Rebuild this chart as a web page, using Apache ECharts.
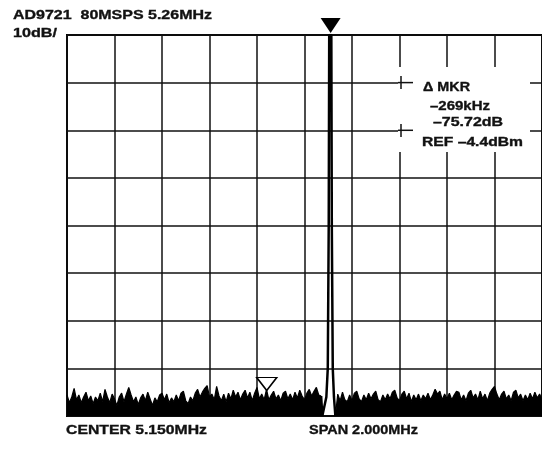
<!DOCTYPE html>
<html>
<head>
<meta charset="utf-8">
<script src="https://cdn.jsdelivr.net/npm/echarts@6/dist/echarts.min.js"></script>
<style>
html,body{margin:0;padding:0;background:#fff;}
#chart{width:542px;height:451px;}
</style>
</head>
<body>
<div id="chart"></div>
<script>
// ---- texts ----
const titleText = 'AD9721  80MSPS 5.26MHz';
const scaleText = '10dB/';
const centerText = 'CENTER 5.150MHz';
const spanText = 'SPAN 2.000MHz';
const markerLines = ['\u0394 MKR', '\u2013269kHz', '\u201375.72dB', 'REF \u20134.4dBm'];

// ---- axes (offset from centre 5.150 MHz, level relative to REF -4.4 dBm) ----
const freqMin = -1.0, freqMax = 1.0, freqDiv = 0.2;
const levelMin = -80, levelMax = 0, levelDiv = 10;

// ---- noise trace samples (0.01 MHz spacing, from -1.00 MHz), dB rel. REF ----
const noiseStart = -1.0, noiseStep = 0.01;
const noiseLevels = [
 -75.6,-77.2,-76.0,-74.2,-76.6,-75.6,-77.2,-76.0,-75.0,-76.8,
 -75.8,-77.4,-76.0,-76.8,-75.2,-77.0,-74.4,-76.0,-77.2,-75.4,
 -76.4,-77.8,-76.0,-75.2,-77.0,-75.4,-74.0,-75.6,-77.0,-76.0,
 -77.6,-76.2,-75.4,-76.8,-75.0,-76.4,-77.8,-76.2,-77.0,-75.6,
 -75.2,-76.6,-75.4,-77.2,-76.2,-77.0,-75.6,-76.8,-75.2,-74.8,
 -76.8,-77.4,-76.0,-76.8,-75.2,-74.4,-76.0,-75.0,-74.2,-73.6,
 -76.0,-75.4,-76.6,-73.8,-75.8,-76.8,-75.4,-77.0,-75.2,-76.4,
 -74.6,-76.0,-75.0,-76.6,-75.4,-74.6,-76.2,-75.0,-76.8,-75.2,
 -74.0,-76.4,-75.4,-76.6,-74.4,-76.6,-75.6,-74.8,-76.4,-75.6,
 -76.8,-75.2,-74.8,-76.4,-75.4,-76.6,-75.0,-76.2,-74.6,-75.8,
 -76.6,-75.2,-74.4,-75.8,-74.8,-74.0,-75.6,-75.8,null,null,
 null,null,null,-80.0,-75.4,-76.8,-75.0,-76.6,-77.0,-75.6,
 -76.8,-75.2,-74.8,-76.4,-77.0,-75.6,-76.6,-75.2,-76.4,-75.4,
 -74.8,-76.6,-77.0,-75.6,-76.6,-75.4,-76.4,-75.0,-74.6,-76.2,
 -76.8,-75.4,-74.8,-76.4,-75.2,-77.0,-75.6,-76.6,-75.4,-76.8,
 -75.6,-76.4,-75.2,-76.6,-75.6,-74.4,-75.4,-74.8,-76.6,-75.4,
 -76.4,-75.2,-76.6,-75.6,-74.8,-75.0,-76.6,-75.6,-76.8,-75.2,
 -74.6,-76.2,-75.4,-76.6,-74.8,-76.4,-75.4,-76.8,-75.2,-74.4,
 -73.8,-75.4,-76.6,-75.4,-74.8,-76.4,-75.6,-76.8,-75.0,-74.6,
 -76.2,-75.4,-76.8,-75.6,-76.6,-75.2,-76.4,-75.0,-76.2,-75.4,
 -76.6
];

// ---- carrier (5.26 MHz) trace ----
const peakFreqs  = [0.07, 0.075, 0.092, 0.098, 0.102, 0.104, 0.113, 0.115, 0.119, 0.124, 0.13];
const peakLevels = [-75.8, -80.0, -76.0, -70.0, -40.0, 0, 0, -40.0, -70.0, -76.0, -80.0];

// ---- markers ----
const mainMarker  = [0.11, 0];          // 5.26 MHz, REF level
const deltaMarker = [-0.159, -75.72];   // -269 kHz, -75.72 dB

const noiseData = noiseLevels.map((v, i) => [noiseStart + i * noiseStep, v]);
const peakData = peakFreqs.map((f, i) => [f, peakLevels[i]]);

const chart = echarts.init(document.getElementById('chart'), null, {renderer: 'canvas'});

const FONT = '"Liberation Sans", Arial, Helvetica, sans-serif';
const FONT_SIZE = 13;
const measure = document.createElement('canvas').getContext('2d');
measure.font = 'bold ' + FONT_SIZE + 'px ' + FONT;
function label(text, x, yMid, targetW) {
  const w = measure.measureText(text).width;
  return {
    type: 'text', x: x, y: yMid, z: 60,
    scaleX: targetW / w, originX: 0, originY: 0,
    style: {text: text, fill: '#111', stroke: '#111', lineWidth: 0.35,
            font: 'bold ' + FONT_SIZE + 'px ' + FONT, align: 'left', verticalAlign: 'middle'}
  };
}

const axisCommon = {
  axisLine: {show: false}, axisTick: {show: false}, axisLabel: {show: false},
  splitLine: {show: true, lineStyle: {color: '#111', width: 1.5}}
};

chart.setOption({
  animation: false,
  backgroundColor: '#fff',
  grid: {left: 67, top: 35, width: 477, height: 381, show: true, borderColor: '#000', borderWidth: 2},
  xAxis: Object.assign({type: 'value', min: freqMin, max: freqMax, interval: freqDiv}, axisCommon),
  yAxis: Object.assign({type: 'value', min: levelMin, max: levelMax, interval: levelDiv}, axisCommon),
  series: [
    {
      type: 'line', data: noiseData, symbol: 'none', connectNulls: false,
      lineStyle: {color: '#000', width: 1.2},
      areaStyle: {color: '#000', opacity: 1, origin: 'start'},
      z: 3
    },
    {
      type: 'line', data: peakData, symbol: 'none',
      lineStyle: {color: '#000', width: 2.5},
      z: 4,
      markPoint: {
        silent: true,
        label: {show: false},
        data: [
          {coord: mainMarker, symbol: 'triangle', symbolRotate: 180, symbolSize: [20, 15], symbolOffset: [0, -9.5],
           itemStyle: {color: '#000'}},
          {coord: deltaMarker, symbol: 'triangle', symbolRotate: 180, symbolSize: [20, 13], symbolOffset: [0, -11.6],
           itemStyle: {color: '#fff', borderColor: '#000', borderWidth: 1.5}}
        ]
      }
    }
  ],
  graphic: [
    {type: 'rect', z: 50, shape: {x: 398, y: 67, width: 132, height: 85}, style: {fill: '#fff'}},
    {type: 'line', z: 51, shape: {x1: 398, y1: 82.6, x2: 413, y2: 82.6}, style: {stroke: '#111', lineWidth: 1.5}},
    {type: 'line', z: 51, shape: {x1: 398, y1: 130.3, x2: 413, y2: 130.3}, style: {stroke: '#111', lineWidth: 1.5}},
    {type: 'line', z: 51, shape: {x1: 401, y1: 76, x2: 401, y2: 89}, style: {stroke: '#111', lineWidth: 1.5}},
    {type: 'line', z: 51, shape: {x1: 401, y1: 124, x2: 401, y2: 137}, style: {stroke: '#111', lineWidth: 1.5}},
    label(titleText, 13, 15, 199),
    label(scaleText, 13, 33.5, 44),
    label(centerText, 66, 430, 141),
    label(spanText, 309, 430, 109),
    label(markerLines[0], 423, 87.5, 47),
    label(markerLines[1], 430, 106, 60),
    label(markerLines[2], 433, 122.5, 70),
    label(markerLines[3], 422, 142, 101)
  ]
});
</script>
</body>
</html>
